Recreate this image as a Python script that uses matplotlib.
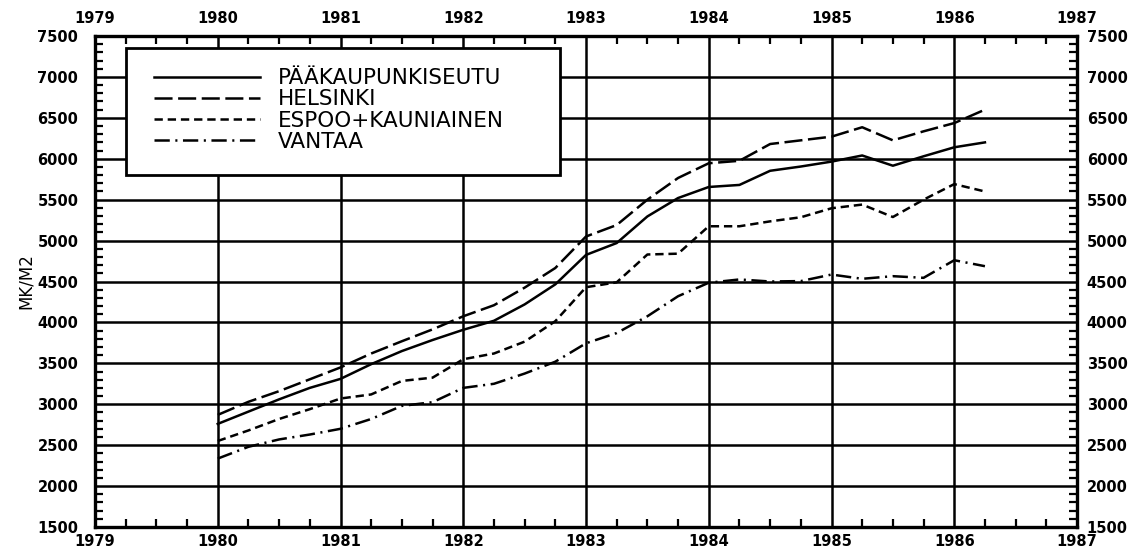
import numpy as np
import matplotlib
matplotlib.use("Agg")
import matplotlib.pyplot as plt
from matplotlib.lines import Line2D
from matplotlib.patches import Rectangle
from matplotlib.ticker import MultipleLocator, NullLocator

plt.rcParams['font.family'] = ['DejaVu Sans']
plt.rcParams['lines.scale_dashes'] = False

# quarterly observations 1980 Q1 .. 1986 Q2
quarters = 1980 + 0.25 * np.arange(26)

paakaupunkiseutu = [2760, 2910, 3060, 3200, 3310, 3490, 3650, 3785, 3910, 4020,
                    4220, 4465, 4825, 4970, 5295, 5520, 5655, 5680, 5853, 5905,
                    5965, 6040, 5915, 6030, 6140, 6200]
helsinki = [2870, 3030, 3160, 3305, 3450, 3620, 3770, 3915, 4075, 4210,
            4425, 4665, 5050, 5190, 5500, 5765, 5945, 5975, 6180, 6225,
            6270, 6385, 6225, 6335, 6436, 6600]
espoo = [2551, 2680, 2820, 2940, 3070, 3120, 3285, 3325, 3550, 3620,
         3765, 4015, 4430, 4490, 4830, 4840, 5175, 5175, 5235, 5285,
         5395, 5440, 5288, 5500, 5690, 5600]
vantaa = [2336, 2480, 2570, 2630, 2700, 2820, 2980, 3025, 3200, 3250,
          3375, 3520, 3745, 3870, 4075, 4320, 4485, 4525, 4500, 4505,
          4585, 4533, 4565, 4545, 4760, 4687]

labels = ['PÄÄKAUPUNKISEUTU', 'HELSINKI', 'ESPOO+KAUNIAINEN', 'VANTAA']
series = [paakaupunkiseutu, helsinki, espoo, vantaa]
styles = ['-', (0, (13, 4)), (0, (6, 3.5)), (0, (11, 4, 1.5, 4))]

fig = plt.figure(figsize=(11.29, 5.52), dpi=100)
ax = fig.add_axes([95 / 1129, 1 - 527 / 552, 982 / 1129, 491 / 552])

for vals, ls in zip(series, styles):
    ax.plot(quarters, vals, color='black', lw=1.8, linestyle=ls,
            dash_capstyle='butt', zorder=3)

ax.set_xlim(1979, 1987)
ax.set_ylim(1500, 7500)
ax.xaxis.set_major_locator(MultipleLocator(1))
ax.xaxis.set_minor_locator(MultipleLocator(0.25))
ax.yaxis.set_major_locator(MultipleLocator(500))
ax.yaxis.set_minor_locator(MultipleLocator(100))
yearfmt = plt.FuncFormatter(lambda v, p: f'{int(v)}')
ax.xaxis.set_major_formatter(yearfmt)

ax.grid(True, which='major', color='black', lw=1.8, zorder=1)
for s in ax.spines.values():
    s.set_linewidth(2.4)

ax.tick_params(which='major', length=0, labelsize=10.5)
ax.tick_params(which='minor', direction='in', length=6, width=1.6,
               top=True, right=True)
ax.tick_params(axis='y', which='major', pad=12)
ax.tick_params(axis='x', which='major', pad=5)

# top and right labels
top = ax.secondary_xaxis('top')
top.xaxis.set_major_locator(MultipleLocator(1))
top.xaxis.set_minor_locator(NullLocator())
top.xaxis.set_major_formatter(yearfmt)
top.tick_params(length=0, pad=7, labelsize=10.5)
right = ax.secondary_yaxis('right')
right.yaxis.set_major_locator(MultipleLocator(500))
right.yaxis.set_minor_locator(NullLocator())
right.tick_params(length=0, pad=7, labelsize=10.5)
for a in (top, right):
    for s in a.spines.values():
        s.set_visible(False)

for lab in (ax.get_xticklabels() + ax.get_yticklabels() +
            top.get_xticklabels() + right.get_yticklabels()):
    lab.set_fontweight('bold')

ax.set_ylabel('MK/M2', fontsize=12)
ax.yaxis.set_label_coords(-0.061, 0.5)

# legend box
box = Rectangle((0.0313, 0.7169), 0.4423, 0.2593, transform=ax.transAxes,
                facecolor='white', edgecolor='black', lw=2, zorder=4)
ax.add_patch(box)
handles = [Line2D([0], [0], color='black', lw=1.8, linestyle=ls,
                  dash_capstyle='butt') for ls in styles]
leg = ax.legend(handles, labels, loc='upper left', bbox_to_anchor=(0.0605, 0.934),
                frameon=False, fontsize=15.5, handlelength=4.9,
                handletextpad=0.84, labelspacing=0.05, borderpad=0,
                borderaxespad=0)
leg.set_zorder(5)

fig.savefig('out.png', dpi=100)
